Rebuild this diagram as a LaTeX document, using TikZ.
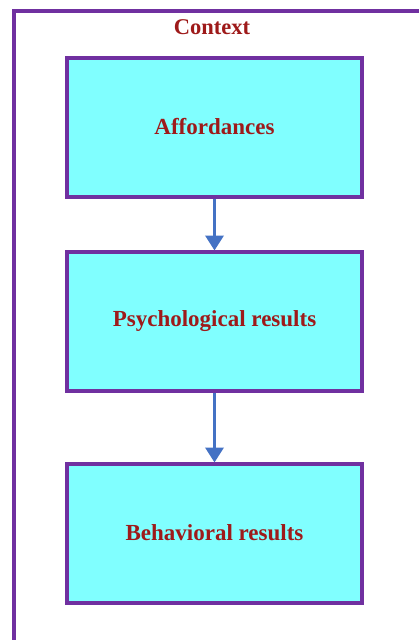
\documentclass[tikz,border=0pt]{standalone}
\usepackage{fontspec}
\setmainfont{Liberation Serif}
\usetikzlibrary{arrows.meta}
\definecolor{framepurple}{HTML}{7030A0}
\definecolor{boxcyan}{HTML}{80FFFF}
\definecolor{labelred}{HTML}{9E1A1A}
\definecolor{arrowblue}{HTML}{4472C4}
\begin{document}
\begin{tikzpicture}[x=1pt,y=-1pt,
  stagebox/.style={draw=framepurple, line width=4pt, fill=boxcyan,
    minimum width=295pt, minimum height=139pt, anchor=north west,
    inner sep=0pt, font=\fontsize{23}{27}\selectfont\bfseries, text=labelred},
  flow/.style={draw=arrowblue, line width=3.5pt,
    -{Triangle[length=15pt,width=18pt]}, shorten >=-1pt}]
  \useasboundingbox (0,0) rectangle (419,640);
  % outer context frame, running past the page edge on the right and bottom
  \begin{scope}
    \clip (0,0) rectangle (419,640);
    \draw[framepurple, line width=3.5pt] (14,11) rectangle (440,660);
  \end{scope}
  \node[font=\fontsize{22.5}{26}\selectfont\bfseries, text=labelred] (ctx) at (212,27) {Context};
  \node[stagebox] (aff) at (65,55.5) {Affordances};
  \node[stagebox] (psy) at (65,249.5) {Psychological results};
  \node[stagebox] (beh) at (65,461.5) {Behavioral results};
  \draw[flow] (aff.south) -- (psy.north);
  \draw[flow] (psy.south) -- (beh.north);
\end{tikzpicture}
\end{document}
